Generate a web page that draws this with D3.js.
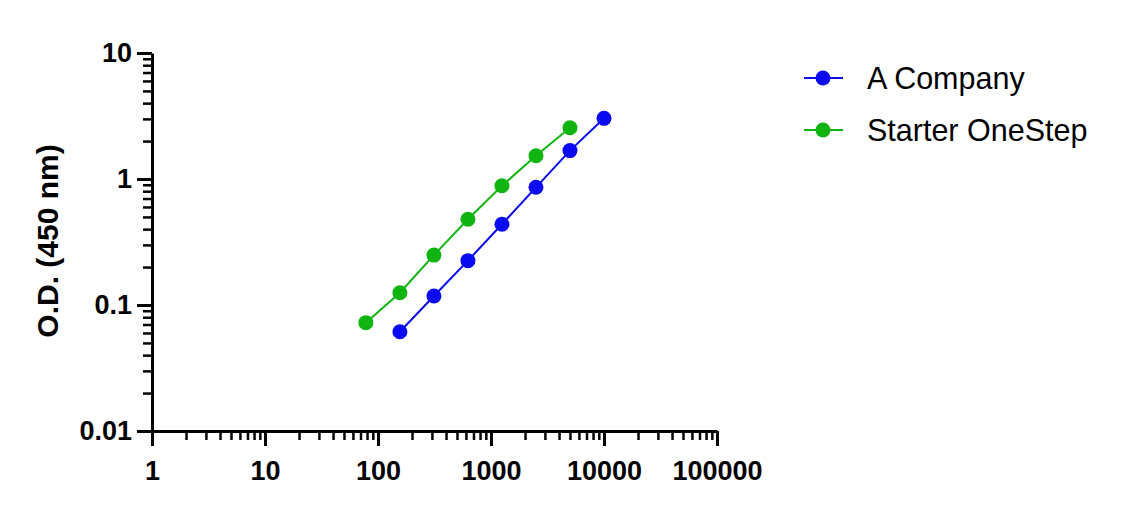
<!DOCTYPE html>
<html><head><meta charset="utf-8">
<script src="https://cdn.jsdelivr.net/npm/d3@7"></script>
<style>body{margin:0;background:#fff}svg{display:block}</style>
</head><body>
<svg id="c" width="1121" height="507"></svg>
<script>
const seriesNames = ["A Company", "Starter OneStep"];
const seriesColors = ["#0a0af0", "#10b410"];
const xA = [156.25, 312.5, 625, 1250, 2500, 5000, 10000];
const yA = [0.0614, 0.118, 0.225, 0.437, 0.859, 1.68, 3.03];
const xS = [78.125, 156.25, 312.5, 625, 1250, 2500, 5000];
const yS = [0.0724, 0.125, 0.249, 0.479, 0.885, 1.53, 2.55];
const xMajor = [1, 10, 100, 1000, 10000, 100000];
const xLabels = ["1", "10", "100", "1000", "10000", "100000"];
const yMajor = [0.01, 0.1, 1, 10];
const yLabels = ["0.01", "0.1", "1", "10"];
const yTitle = "O.D. (450 nm)";

const svg = d3.select("#c");
const x = d3.scaleLog().domain([1, 100000]).range([152, 717]);
const y = d3.scaleLog().domain([0.01, 10]).range([431, 53]);

function minors(lo, hi) {
  const out = [];
  for (let d = lo; d < hi; d *= 10) for (let k = 2; k <= 9; k++) out.push(d * k);
  return out;
}
const font = "'Liberation Sans', Arial, sans-serif";

// X axis
const gxm = svg.append("g").attr("transform", "translate(0,431)")
  .call(d3.axisBottom(x).tickValues(minors(1, 100000)).tickSize(9).tickSizeOuter(0).tickFormat(""));
gxm.select(".domain").remove();
gxm.selectAll(".tick line").attr("stroke", "#000").attr("stroke-width", 2.5);
const gx = svg.append("g").attr("transform", "translate(0,431)")
  .call(d3.axisBottom(x).tickValues(xMajor).tickSize(15).tickSizeOuter(0).tickPadding(15)
    .tickFormat((d, i) => xLabels[i]));
gx.select(".domain").attr("stroke", "#000").attr("stroke-width", 3);
gx.selectAll(".tick line").attr("stroke", "#000").attr("stroke-width", 3);
gx.selectAll("text").attr("font-family", font).attr("font-size", 27).attr("font-weight", "bold").attr("fill", "#000");

// Y axis
const gym = svg.append("g").attr("transform", "translate(152,0)")
  .call(d3.axisLeft(y).tickValues(minors(0.01, 10)).tickSize(9).tickSizeOuter(0).tickFormat(""));
gym.select(".domain").remove();
gym.selectAll(".tick line").attr("stroke", "#000").attr("stroke-width", 2.5);
const gy = svg.append("g").attr("transform", "translate(152,0)")
  .call(d3.axisLeft(y).tickValues(yMajor).tickSize(15).tickSizeOuter(0).tickPadding(5)
    .tickFormat((d, i) => yLabels[i]));
gy.select(".domain").attr("stroke", "#000").attr("stroke-width", 3);
gy.selectAll(".tick line").attr("stroke", "#000").attr("stroke-width", 3);
gy.selectAll("text").attr("font-family", font).attr("font-size", 27).attr("font-weight", "bold").attr("fill", "#000");

svg.append("text").attr("transform", "translate(58,241) rotate(-90)")
  .attr("text-anchor", "middle").attr("font-family", font).attr("font-size", 30)
  .attr("font-weight", "bold").text(yTitle);

// Series
const series = [
  { name: seriesNames[0], color: seriesColors[0], xs: xA, ys: yA },
  { name: seriesNames[1], color: seriesColors[1], xs: xS, ys: yS }
];
const line = d3.line().x(d => x(d[0])).y(d => y(d[1]));
series.forEach(s => {
  const pts = s.xs.map((v, i) => [v, s.ys[i]]);
  svg.append("path").datum(pts).attr("d", line).attr("fill", "none")
    .attr("stroke", s.color).attr("stroke-width", 2);
  svg.append("g").selectAll("circle").data(pts).join("circle")
    .attr("cx", d => x(d[0])).attr("cy", d => y(d[1])).attr("r", 7.5).attr("fill", s.color);
});

// Legend
series.forEach((s, i) => {
  const ly = 78 + i * 52;
  const g = svg.append("g");
  g.append("line").attr("x1", 804).attr("x2", 843).attr("y1", ly).attr("y2", ly)
    .attr("stroke", s.color).attr("stroke-width", 2);
  g.append("circle").attr("cx", 823).attr("cy", ly).attr("r", 7.5).attr("fill", s.color);
  g.append("text").attr("x", 867).attr("y", ly).attr("dy", "0.35em")
    .attr("font-family", font).attr("font-size", 30.5).attr("fill", "#000").text(s.name);
});
</script>
</body></html>
